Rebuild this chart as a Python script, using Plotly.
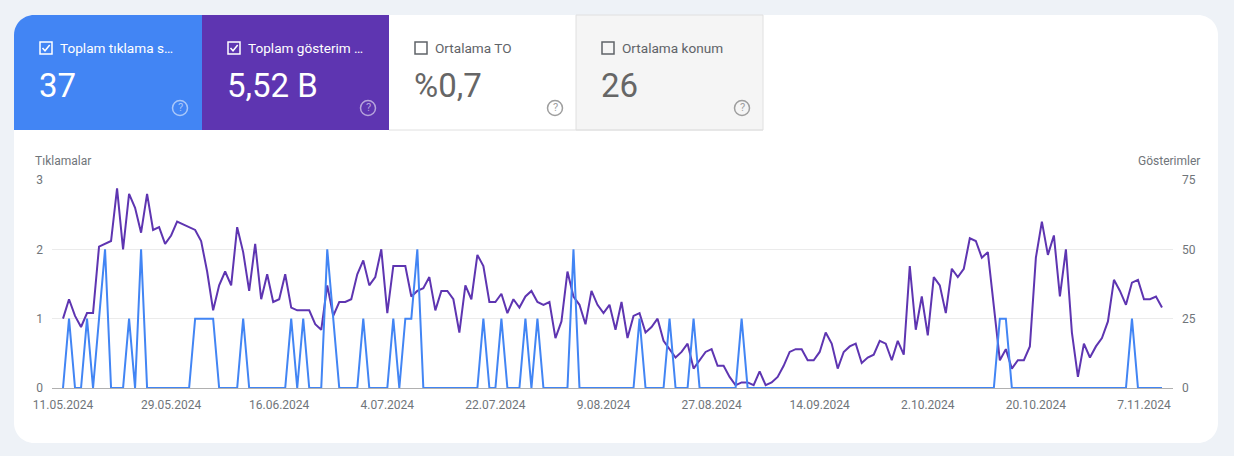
import pandas as pd
import plotly.graph_objects as go

# ---------------- data ----------------
start_date = "2024-05-11"
clicks = [0, 1, 0, 0, 1, 0, 1, 2, 0, 0, 0, 1, 0, 2, 0, 0, 0, 0, 0, 0,
          0, 0, 1, 1, 1, 1, 0, 0, 0, 0, 1, 0, 0, 0, 0, 0, 0, 0, 1, 0,
          1, 0, 0, 0, 2, 1, 0, 0, 0, 0, 1, 0, 0, 0, 0, 1, 0, 1, 1, 2,
          0, 0, 0, 0, 0, 0, 0, 0, 0, 0, 1, 0, 0, 1, 0, 0, 0, 1, 0, 1,
          0, 0, 0, 0, 0, 2, 0, 0, 0, 0, 0, 0, 0, 0, 0, 0, 1, 0, 0, 0,
          0, 1, 0, 0, 0, 1, 0, 0, 0, 0, 0, 0, 0, 1, 0, 0, 0, 0, 0, 0,
          0, 0, 0, 0, 0, 0, 0, 0, 0, 0, 0, 0, 0, 0, 0, 0, 0, 0, 0, 0,
          0, 0, 0, 0, 0, 0, 0, 0, 0, 0, 0, 0, 0, 0, 0, 0, 1, 1, 0, 0,
          0, 0, 0, 0, 0, 0, 0, 0, 0, 0, 0, 0, 0, 0, 0, 0, 0, 0, 1, 0,
          0, 0, 0, 0]
impressions = [25, 32, 26, 22, 27, 27, 51, 52, 53, 72, 50, 70, 65, 56, 70, 57, 58, 52, 55, 60,
               59, 58, 57, 53, 42, 28, 37, 42, 37, 58, 49, 35, 52, 32, 41, 31, 32, 41, 29, 28,
               28, 28, 23, 21, 37, 26, 31, 31, 32, 41, 46, 37, 40, 50, 27, 44, 44, 44, 33, 35,
               36, 40, 28, 35, 35, 32, 20, 37, 32, 48, 44, 31, 31, 34, 27, 32, 29, 33, 35, 31,
               30, 31, 18, 24, 42, 33, 30, 23, 35, 30, 27, 30, 21, 31, 18, 26, 27, 20, 22, 25,
               17, 14, 11, 13, 16, 7, 10, 13, 14, 8, 8, 4, 1, 2, 2, 1, 6, 1, 2, 4,
               8, 13, 14, 14, 10, 10, 13, 20, 16, 7, 13, 15, 16, 9, 11, 12, 17, 16, 10, 17,
               12, 44, 21, 33, 19, 40, 37, 27, 43, 40, 43, 54, 53, 47, 49, 29, 10, 14, 7, 10,
               10, 15, 47, 60, 48, 55, 33, 50, 20, 4, 16, 11, 15, 18, 24, 39, 35, 30, 38, 39,
               32, 32, 33, 29]
x_tick_labels = ["11.05.2024", "29.05.2024", "16.06.2024", "4.07.2024", "22.07.2024",
                 "9.08.2024", "27.08.2024", "14.09.2024", "2.10.2024", "20.10.2024", "7.11.2024"]
clicks_ticks = [0, 1, 2, 3]
impr_ticks = [0, 25, 50, 75]
card_labels = ["Toplam tıklama s…", "Toplam gösterim …", "Ortalama TO", "Ortalama konum"]
card_values = ["37", "5,52 B", "%0,7", "26"]
card_selected = [True, True, False, False]

# ---------------- style ----------------
FONT = "Roboto, Arial, sans-serif"
BLUE = "#4285f4"
PURPLE = "#5e35b1"
PAGE_BG = "#eef2f7"
TICK_COL = "#70757a"
WIDTH, HEIGHT = 1234, 456
L, R, T, B = 52, 1173, 180, 388
PW, PH = R - L, B - T


def px(x):
    return (x - L) / PW


def py(y):
    return (B - y) / PH


def rrect(x0, y0, x1, y1, tl=0, tr=0, br=0, bl=0):
    k = 0.4477  # 1 - 0.5523
    def P(x, y):
        return f"{px(x):.6f},{py(y):.6f}"
    s = f"M {P(x0 + tl, y0)} L {P(x1 - tr, y0)} "
    if tr:
        s += f"C {P(x1 - tr * k, y0)} {P(x1, y0 + tr * k)} {P(x1, y0 + tr)} "
    s += f"L {P(x1, y1 - br)} "
    if br:
        s += f"C {P(x1, y1 - br * k)} {P(x1 - br * k, y1)} {P(x1 - br, y1)} "
    s += f"L {P(x0 + bl, y1)} "
    if bl:
        s += f"C {P(x0 + bl * k, y1)} {P(x0, y1 - bl * k)} {P(x0, y1 - bl)} "
    s += f"L {P(x0, y0 + tl)} "
    if tl:
        s += f"C {P(x0, y0 + tl * k)} {P(x0 + tl * k, y0)} {P(x0 + tl, y0)} "
    return s + "Z"


dates = pd.date_range(start_date, periods=len(impressions), freq="D")
tick_dates = pd.to_datetime(x_tick_labels, format="%d.%m.%Y")

fig = go.Figure()
fig.add_trace(go.Scatter(x=dates, y=impressions, mode="lines", yaxis="y",
                         line=dict(color=PURPLE, width=2), name="Gösterimler"))
fig.add_trace(go.Scatter(x=dates, y=clicks, mode="lines", yaxis="y2",
                         line=dict(color=BLUE, width=2), name="Tıklamalar"))

shapes = []
annotations = []
# outer white card
shapes.append(dict(type="path", xref="paper", yref="paper", layer="below",
                   path=rrect(14, 15, 1218, 443, 20, 20, 20, 20),
                   fillcolor="white", line=dict(width=0)))
# metric cards
card_x = [14, 202, 389, 576]
card_w = 187
card_fill = [BLUE, PURPLE, "white", "#f5f5f5"]
for i in range(4):
    x0 = card_x[i]
    x1 = x0 + card_w + (1 if i < 2 else 0)
    if i == 0:
        path = rrect(x0, 15, x1, 130, tl=20)
        shapes.append(dict(type="path", xref="paper", yref="paper", layer="below",
                           path=path, fillcolor=card_fill[i], line=dict(width=0)))
    else:
        shapes.append(dict(type="rect", xref="paper", yref="paper", layer="below",
                           x0=px(x0), x1=px(x1), y0=py(15), y1=py(130),
                           fillcolor=card_fill[i],
                           line=dict(width=1 if i == 3 else 0, color="#e0e0e0")))
# bottom border under unselected cards
shapes.append(dict(type="line", xref="paper", yref="paper", layer="below",
                   x0=px(389), x1=px(763), y0=py(130), y1=py(130),
                   line=dict(color="#e0e0e0", width=1)))

for i in range(4):
    x0 = card_x[i]
    sel = card_selected[i]
    fg = "white" if sel else "#5f6368"
    cb_x = x0 + 26
    # checkbox
    shapes.append(dict(type="rect", xref="paper", yref="paper",
                       x0=px(cb_x), x1=px(cb_x + 12), y0=py(42), y1=py(54),
                       line=dict(color=fg, width=1.5), fillcolor="rgba(0,0,0,0)"))
    if sel:
        shapes.append(dict(type="path", xref="paper", yref="paper",
                           path=f"M {px(cb_x + 2.5)},{py(48)} L {px(cb_x + 5)},{py(50.8)} L {px(cb_x + 9.7)},{py(45)}",
                           line=dict(color=fg, width=1.5)))
    annotations.append(dict(xref="paper", yref="paper", x=px(cb_x + 18), y=py(48),
                            xanchor="left", yanchor="middle", showarrow=False,
                            text=card_labels[i], font=dict(family=FONT, size=13.6, color=fg)))
    annotations.append(dict(xref="paper", yref="paper", x=px(x0 + 23), y=py(85),
                            xanchor="left", yanchor="middle", showarrow=False,
                            text=card_values[i],
                            font=dict(family=FONT, size=33, color="white" if sel else "#666666")))
    # help icon
    qc = "rgba(255,255,255,0.55)" if sel else "#9e9e9e"
    cx = x0 + 166
    shapes.append(dict(type="circle", xref="paper", yref="paper",
                       x0=px(cx - 7.5), x1=px(cx + 7.5), y0=py(100.5), y1=py(115.5),
                       line=dict(color=qc, width=1.5), fillcolor="rgba(0,0,0,0)"))
    annotations.append(dict(xref="paper", yref="paper", x=px(cx), y=py(108),
                            xanchor="center", yanchor="middle", showarrow=False,
                            text="?", font=dict(family=FONT, size=11, color=qc)))

# axis titles
annotations.append(dict(xref="paper", yref="paper", x=px(33), y=py(161),
                        xanchor="left", yanchor="middle", showarrow=False,
                        text="Tıklamalar", font=dict(family=FONT, size=12, color=TICK_COL)))
annotations.append(dict(xref="paper", yref="paper", x=px(1202), y=py(161),
                        xanchor="right", yanchor="middle", showarrow=False,
                        text="Gösterimler", font=dict(family=FONT, size=12, color=TICK_COL)))

x_lo = dates[0] - pd.Timedelta(hours=44)
x_hi = dates[-1] + pd.Timedelta(hours=44)

fig.update_layout(
    width=WIDTH, height=HEIGHT,
    margin=dict(l=L, r=WIDTH - R, t=T, b=HEIGHT - B, pad=0),
    paper_bgcolor=PAGE_BG, plot_bgcolor="rgba(0,0,0,0)",
    showlegend=False,
    font=dict(family=FONT, size=12, color=TICK_COL),
    xaxis=dict(type="date", range=[x_lo, x_hi], tickvals=tick_dates, ticktext=x_tick_labels,
               showgrid=False, showline=False, zeroline=False, ticks="",
               ticklabelstandoff=8, tickfont=dict(family=FONT, size=12, color=TICK_COL)),
    yaxis=dict(range=[0, 75], tickvals=impr_ticks, side="right", showgrid=True,
               gridcolor="#ebebeb", gridwidth=1, zeroline=True, zerolinecolor="#b0b0b0",
               zerolinewidth=1, showline=False, ticks="", ticklabelstandoff=8,
               tickfont=dict(family=FONT, size=12, color=TICK_COL)),
    yaxis2=dict(range=[0, 3], tickvals=clicks_ticks, side="left", overlaying="y",
                showgrid=False, zeroline=False, showline=False, ticks="",
                ticklabelstandoff=8, tickfont=dict(family=FONT, size=12, color=TICK_COL)),
    shapes=shapes,
    annotations=annotations,
)

fig.write_html(
    "out.html",
    config={"displayModeBar": False},
    post_script=(
        "document.documentElement.style.margin='0';"
        "document.documentElement.style.background='" + PAGE_BG + "';"
        "document.body.style.margin='0';document.body.style.padding='0';"
        "document.body.style.overflow='hidden';"
    ),
)
